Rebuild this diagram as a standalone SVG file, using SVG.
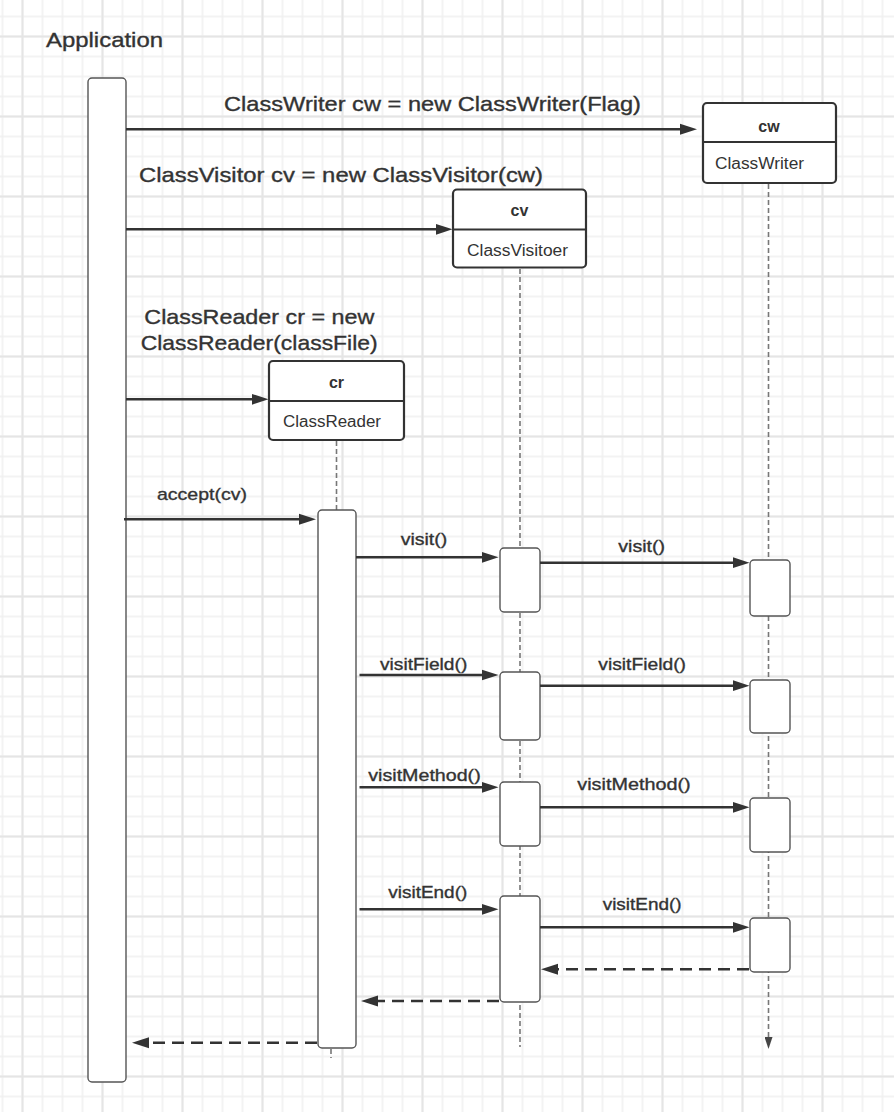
<svg xmlns="http://www.w3.org/2000/svg" width="894" height="1112" viewBox="0 0 894 1112">
<style>
.bg{fill:#ffffff}
.txt{font-family:"Liberation Sans",Arial,sans-serif;fill:#333333;stroke:#333333;stroke-width:0.35}
.big{font-size:21px}
.lbl{font-size:17px}
.hdr{font-family:"Liberation Sans",Arial,sans-serif;font-size:16px;font-weight:bold;fill:#333333;text-anchor:middle}
.cls{font-family:"Liberation Sans",Arial,sans-serif;font-size:16px;fill:#333333}
.obj{fill:#ffffff;stroke:#333333;stroke-width:2.2}
.div{stroke:#333333;stroke-width:2}
.act{fill:#ffffff;stroke:#555555;stroke-width:1.4}
.life{stroke:#777777;stroke-width:1.6;stroke-dasharray:5 3;fill:none}
.msg{stroke:#333333;stroke-width:2.6;fill:none;marker-end:url(#ah)}
.ret{stroke:#333333;stroke-width:2.6;fill:none;stroke-dasharray:12 7;marker-end:url(#ah)}
</style>
<defs>
<pattern id="gridFine" patternUnits="userSpaceOnUse" x="-7.5" y="6.5" width="20" height="20">
<path d="M10,0 V20 M0,10 H20" stroke="#efefef" stroke-width="1.5" fill="none"/>
</pattern>
<pattern id="gridBold" patternUnits="userSpaceOnUse" x="-17.5" y="-3.5" width="80" height="80">
<path d="M40,0 V80 M0,40 H80" stroke="#e5e5e5" stroke-width="2" fill="none"/>
</pattern>
<marker id="ah" markerUnits="userSpaceOnUse" markerWidth="18" markerHeight="12" refX="7" refY="6" orient="auto">
<path d="M0,0.5 L17,6 L0,11.5 z" fill="#333333"/>
</marker>
<marker id="ahs" markerUnits="userSpaceOnUse" markerWidth="12" markerHeight="8" refX="4" refY="4" orient="auto">
<path d="M0,0 L12,4 L0,8 z" fill="#444444"/>
</marker>
</defs>
<rect class="bg" x="0" y="0" width="894" height="1112"/>
<rect x="0" y="0" width="894" height="1112" fill="url(#gridFine)"/>
<rect x="0" y="0" width="894" height="1112" fill="url(#gridBold)"/>

<g id="lifelines">
<line class="life" x1="336.5" y1="441" x2="336.5" y2="510"/>
<line class="life" x1="331" y1="1049" x2="331" y2="1058"/>
<line class="life" x1="520" y1="269" x2="520" y2="1047"/>
<line class="life" x1="768.5" y1="184" x2="768.5" y2="1041" style="marker-end:url(#ahs)"/>
</g>

<g id="application">
<text class="txt" x="46" y="47" font-size="21" textLength="117" lengthAdjust="spacingAndGlyphs">Application</text>
<rect class="act" x="88" y="78" width="38" height="1004" rx="4"/>
</g>

<g id="cw">
<rect class="obj" x="703" y="103" width="133" height="80" rx="4"/>
<line class="div" x1="703" y1="142" x2="836" y2="142"/>
<text class="hdr" x="769" y="132">cw</text>
<text class="cls" x="715" y="169" textLength="89" lengthAdjust="spacingAndGlyphs">ClassWriter</text>
</g>

<g id="cv">
<rect class="obj" x="453" y="189.5" width="133" height="78" rx="4"/>
<line class="div" x1="453" y1="229.5" x2="586" y2="229.5"/>
<text class="hdr" x="519.5" y="215.5">cv</text>
<text class="cls" x="467" y="255.5" textLength="101" lengthAdjust="spacingAndGlyphs">ClassVisitoer</text>
</g>

<g id="cr">
<rect class="obj" x="269" y="361" width="135" height="79" rx="4"/>
<line class="div" x1="269" y1="401" x2="404" y2="401"/>
<text class="hdr" x="336.5" y="387.5">cr</text>
<text class="cls" x="283" y="427" textLength="98" lengthAdjust="spacingAndGlyphs">ClassReader</text>
</g>

<g id="activations">
<rect class="act" x="318" y="510" width="38" height="538" rx="4"/>
<rect class="act" x="500" y="548" width="40" height="64" rx="4"/>
<rect class="act" x="500" y="672" width="40" height="68" rx="4"/>
<rect class="act" x="500" y="782" width="40" height="64" rx="4"/>
<rect class="act" x="500" y="896" width="40" height="106" rx="4"/>
<rect class="act" x="750" y="560" width="40" height="56" rx="4"/>
<rect class="act" x="750" y="680" width="40" height="53" rx="4"/>
<rect class="act" x="750" y="798" width="40" height="54" rx="4"/>
<rect class="act" x="750" y="918" width="40" height="54" rx="4"/>
</g>

<g id="connectors">
<line class="msg" x1="126" y1="129.3" x2="687" y2="129.3"/>
<line class="msg" x1="126" y1="229.3" x2="442.5" y2="229.3"/>
<line class="msg" x1="126" y1="399.3" x2="258.5" y2="399.3"/>
<line class="msg" x1="124" y1="519.3" x2="306" y2="519.3"/>
<line class="msg" x1="356" y1="557.3" x2="488.5" y2="557.3"/>
<line class="msg" x1="540" y1="562.7" x2="739.5" y2="562.7"/>
<line class="msg" x1="359.5" y1="675" x2="488.5" y2="675"/>
<line class="msg" x1="540" y1="685.7" x2="739.5" y2="685.7"/>
<line class="msg" x1="359.5" y1="787.3" x2="488.5" y2="787.3"/>
<line class="msg" x1="540" y1="807.3" x2="739.5" y2="807.3"/>
<line class="msg" x1="359.5" y1="909.3" x2="488.5" y2="909.3"/>
<line class="msg" x1="540" y1="927.3" x2="739.5" y2="927.3"/>
<line class="ret" x1="749" y1="969.3" x2="551" y2="969.3"/>
<line class="ret" x1="499" y1="1001" x2="371" y2="1001"/>
<line class="ret" x1="317" y1="1042.7" x2="142" y2="1042.7"/>
</g>

<g id="labels">
<text class="txt big" x="224" y="111" textLength="417" lengthAdjust="spacingAndGlyphs">ClassWriter cw = new ClassWriter(Flag)</text>
<text class="txt big" x="139" y="182.3" textLength="404" lengthAdjust="spacingAndGlyphs">ClassVisitor cv = new ClassVisitor(cw)</text>
<text class="txt big" x="144.3" y="324" textLength="230" lengthAdjust="spacingAndGlyphs">ClassReader cr = new</text>
<text class="txt big" x="140.7" y="350" textLength="237" lengthAdjust="spacingAndGlyphs">ClassReader(classFile)</text>
<text class="txt lbl" x="157" y="500" textLength="90" lengthAdjust="spacingAndGlyphs">accept(cv)</text>
<text class="txt lbl" x="400.7" y="545" textLength="46.6" lengthAdjust="spacingAndGlyphs">visit()</text>
<text class="txt lbl" x="618.3" y="551.7" textLength="46.7" lengthAdjust="spacingAndGlyphs">visit()</text>
<text class="txt lbl" x="380" y="670" textLength="87.3" lengthAdjust="spacingAndGlyphs">visitField()</text>
<text class="txt lbl" x="598.3" y="670" textLength="87.7" lengthAdjust="spacingAndGlyphs">visitField()</text>
<text class="txt lbl" x="368.3" y="781" textLength="112.4" lengthAdjust="spacingAndGlyphs">visitMethod()</text>
<text class="txt lbl" x="577.3" y="790" textLength="113.4" lengthAdjust="spacingAndGlyphs">visitMethod()</text>
<text class="txt lbl" x="388.3" y="898.3" textLength="79" lengthAdjust="spacingAndGlyphs">visitEnd()</text>
<text class="txt lbl" x="602.7" y="910" textLength="79" lengthAdjust="spacingAndGlyphs">visitEnd()</text>
</g>
</svg>
